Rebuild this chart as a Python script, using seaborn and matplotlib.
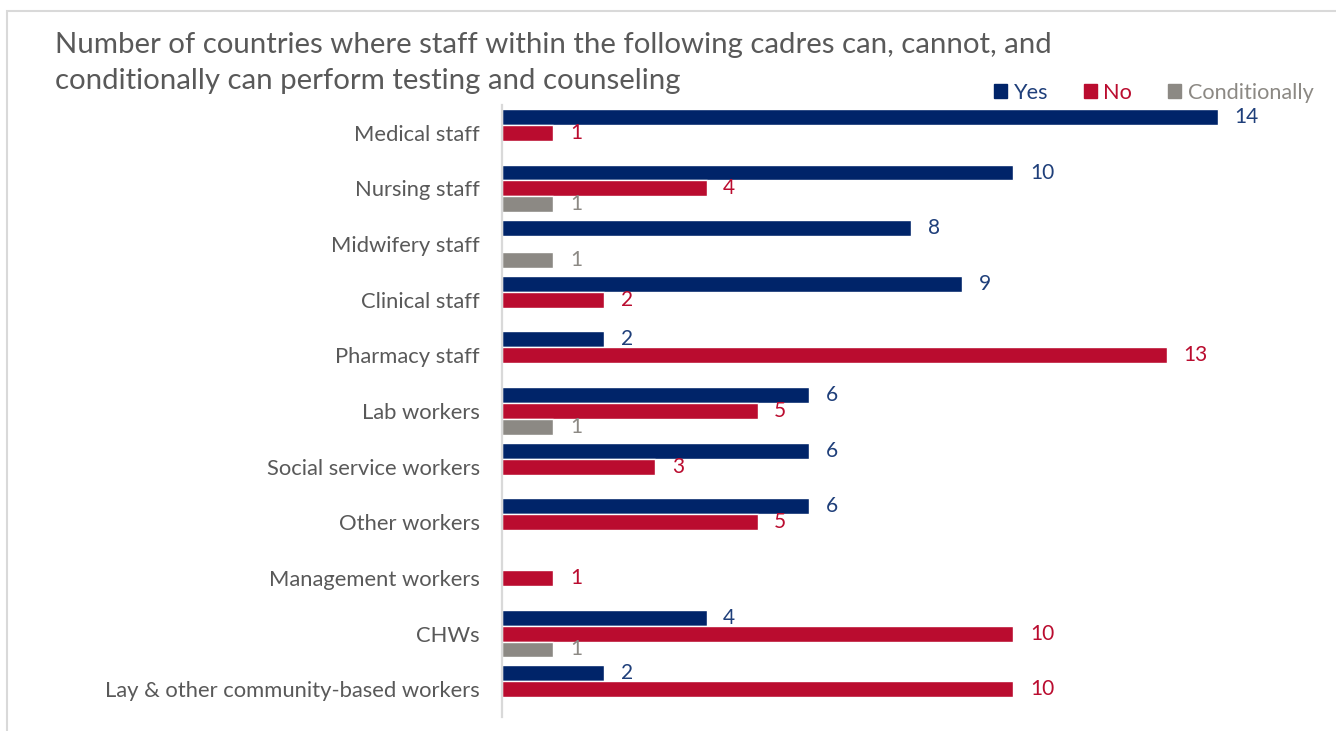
import matplotlib
matplotlib.use("Agg")
import matplotlib.pyplot as plt
from matplotlib.patches import Rectangle
import seaborn as sns
import pandas as pd

cadres = ["Medical staff", "Nursing staff", "Midwifery staff", "Clinical staff",
          "Pharmacy staff", "Lab workers", "Social service workers", "Other workers",
          "Management workers", "CHWs", "Lay & other community-based workers"]
yes_vals = [14, 10, 8, 9, 2, 6, 6, 6, None, 4, 2]
no_vals = [1, 4, None, 2, 13, 5, 3, 5, 1, 10, 10]
cond_vals = [None, 1, 1, None, None, 1, None, None, None, 1, None]
series = ["Yes", "No", "Conditionally"]
colors = {"Yes": "#002469", "No": "#BA0C2F", "Conditionally": "#8C8984"}
label_colors = {"Yes": "#1F3F7A", "No": "#BA0C2F", "Conditionally": "#8C8984"}
title_lines = ["Number of countries where staff within the following cadres can, cannot, and",
               "conditionally can perform testing and counseling"]

rows = []
for name, vals in zip(series, [yes_vals, no_vals, cond_vals]):
    for cadre, v in zip(cadres, vals):
        if v is not None:
            rows.append({"cadre": cadre, "answer": name, "count": v})
df = pd.DataFrame(rows)

sns.set_style("white")
plt.rcParams["font.family"] = ["Lato", "DejaVu Sans"]

fig = plt.figure(figsize=(13.36, 7.31), dpi=100)
ax = fig.add_axes([502 / 1336, 14 / 731, 818 / 1336, 612 / 731])

sns.barplot(data=df, y="cadre", x="count", hue="answer", order=cadres,
            hue_order=series, palette=colors, orient="h", width=0.86, gap=0,
            saturation=1, ax=ax, legend=False)

for cont, name in zip(ax.containers, series):
    ax.bar_label(cont, labels=[f"{int(b.get_width())}" for b in cont],
                 padding=12, color=label_colors[name], fontsize=15)

ax.set_xlim(0, 16)
ax.set_ylim(10.5, -0.5)
ax.set_xlabel("")
ax.set_ylabel("")
ax.set_xticks([])
ax.tick_params(axis="y", length=0, pad=16, labelsize=15.8, labelcolor="#595959")
for s in ["top", "right", "bottom"]:
    ax.spines[s].set_visible(False)
ax.spines["left"].set_color("#D9D9D9")
ax.spines["left"].set_linewidth(1.6)

# two-line title, one text per line
for i, line in enumerate(title_lines):
    fig.text(55 / 1336, 1 - (45 + 36 * i) / 731, line,
             ha="left", va="center", fontsize=21.2, color="#595959")

handles = [Rectangle((0, 0), 1, 1, color=colors[s]) for s in series]
leg = fig.legend(handles, series, loc="center right",
                 bbox_to_anchor=(1322 / 1336, 1 - 93 / 731), ncol=3, frameon=False,
                 fontsize=15.6, handlelength=0.6, handleheight=0.6,
                 handletextpad=0.3, columnspacing=1.65, borderaxespad=0)
for txt, s in zip(leg.get_texts(), series):
    txt.set_color(label_colors[s])

fig.patches.append(Rectangle((7 / 1336, -0.1), 1.2, 1 - 11 / 731 + 0.1,
                             transform=fig.transFigure, fill=False,
                             edgecolor="#D9D9D9", linewidth=1.5))

fig.savefig("out.png", dpi=100)
